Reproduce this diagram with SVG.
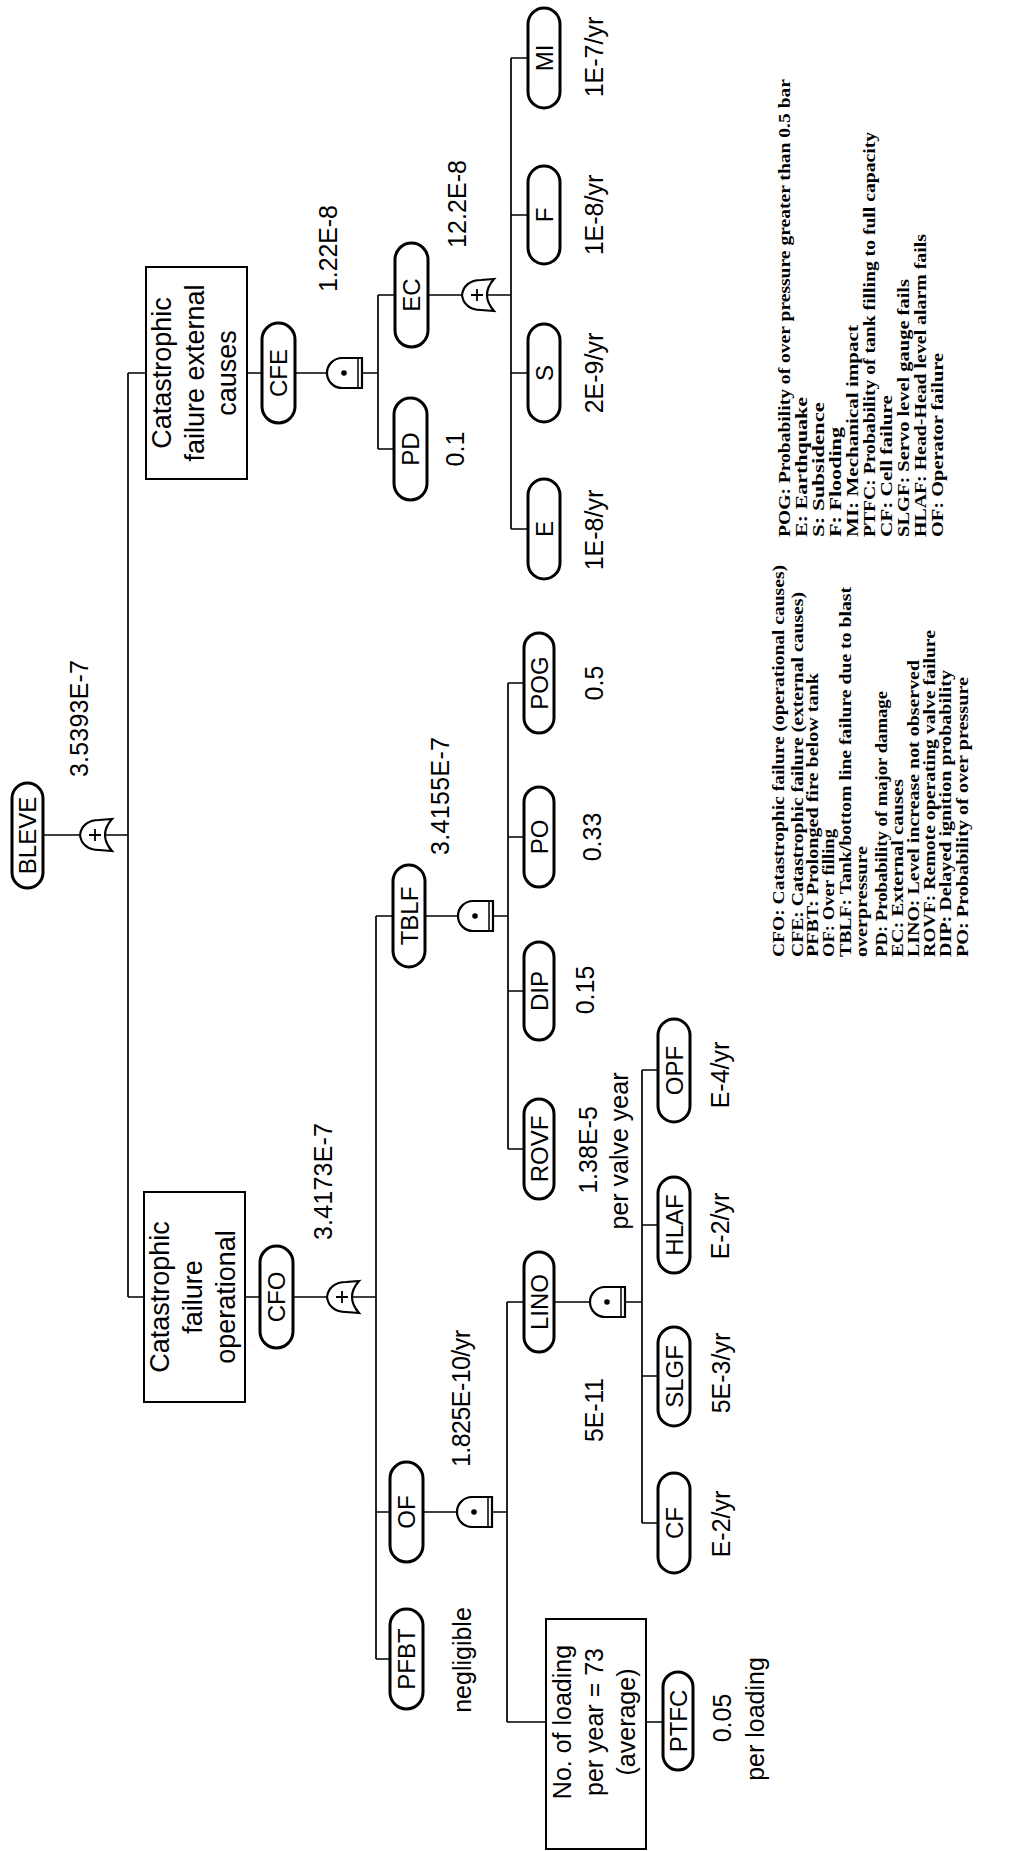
<svg xmlns="http://www.w3.org/2000/svg" xmlns:xlink="http://www.w3.org/1999/xlink" width="1019" height="1851" viewBox="0 0 1019 1851">
<style>
.ln{stroke:#000;stroke-width:1.7;fill:none}
.pill{fill:#fff;stroke:#000;stroke-width:3}
.box{fill:#fff;stroke:#000;stroke-width:2}
.gate{fill:#fff;stroke:#000;stroke-width:2.2}
.pt{font-family:"Liberation Sans",Arial,sans-serif;font-size:24px;text-anchor:middle;fill:#000}
.bt{font-family:"Liberation Sans",Arial,sans-serif;font-size:27px;text-anchor:middle;fill:#000}
.lb{font-family:"Liberation Sans",Arial,sans-serif;font-size:25px;fill:#000}
.c{text-anchor:middle}
.lg{font-family:"Liberation Serif","Times New Roman",serif;font-weight:bold;font-size:17px;fill:#000}
</style>
<defs>
<g id="orgate">
<path class="gate" d="M0,0 C9,1 15,8 15,19 L16,32 Q8,25 0,25 Q-8,25 -16,32 L-15,19 C-15,8 -9,1 0,0 Z"/>
<path d="M-6,15 H6 M0,9 V21" stroke="#000" stroke-width="1.8"/>
</g>
<g id="andgate">
<path class="gate" d="M-15,35 V15 A15,15 0 0 1 15,15 V35 Z"/>
<path d="M-15,31 H15" stroke="#000" stroke-width="1.5"/>
<circle cx="0" cy="17" r="2.8" fill="#000"/>
</g>
</defs>
<rect width="1019" height="1851" fill="#fff"/>
<g transform="matrix(0,-1,1,0,0,1851)">
<g id="connectors">
<path class="ln" d="M1016,43 V128 M554,128 H1478 M554,128 V144 M1478,128 V146
M554,245 V376 M192,376 H935 M935,376 V508 M702,508 H1168 M1168,508 V524 M1014,508 V524 M860,508 V524 M702,508 V524
M339,376 V507 M192,376 V390 M129,507 H549 M549,507 V642 M129,507 V546 M129,646 V663
M328,642 H781 M781,642 V658 M626,642 V658 M475,642 V658 M328,642 V658
M1478,247 V378 M1402,378 H1556 M1402,378 V394 M1556,378 V511 M1322,511 H1793 M1793,511 V528 M1636,511 V528 M1478,511 V528 M1322,511 V528"/>
</g>
<g id="BLEVE"><rect class="pill" x="963" y="12" width="105" height="31" rx="15.5"/><text class="pt" x="1015.5" y="36">BLEVE</text>
<use xlink:href="#orgate" x="1016" y="80"/><text class="lb" x="1074" y="88" textLength="117">3.5393E-7</text></g>
<g id="CFO"><rect class="box" x="449" y="144" width="210" height="101"/>
<text class="bt" x="554" y="169">Catastrophic</text><text class="bt" x="554" y="202">failure</text><text class="bt" x="554" y="235">operational</text>
<rect class="pill" x="503" y="260" width="102" height="33" rx="16.5"/><text class="pt" x="554" y="285">CFO</text>
<use xlink:href="#orgate" x="554" y="327"/><text class="lb" x="611" y="332" textLength="117">3.4173E-7</text></g>
<g id="CFE"><rect class="box" x="1372" y="146" width="212" height="101"/>
<text class="bt" x="1478" y="171">Catastrophic</text><text class="bt" x="1478" y="204">failure external</text><text class="bt" x="1478" y="236">causes</text>
<rect class="pill" x="1428" y="262" width="100" height="33" rx="16.5"/><text class="pt" x="1478" y="287">CFE</text>
<use xlink:href="#andgate" x="1478" y="327"/><text class="lb" x="1559" y="337" textLength="87">1.22E-8</text></g>
<g id="EC"><rect class="pill" x="1504" y="395" width="104" height="33" rx="16.5"/><text class="pt" x="1556" y="420">EC</text>
<use xlink:href="#orgate" x="1556" y="462"/><text class="lb" x="1603" y="466" textLength="88">12.2E-8</text></g>
<g id="PD"><rect class="pill" x="1351" y="394" width="102" height="33" rx="16.5"/><text class="pt" x="1402" y="419">PD</text>
<text class="lb c" x="1402" y="464">0.1</text></g>
<g id="MI"><rect class="pill" x="1743" y="528" width="100" height="32" rx="16"/><text class="pt" x="1793" y="552.5">MI</text><text class="lb c" x="1794" y="603">1E-7/yr</text></g>
<g id="F"><rect class="pill" x="1587" y="528" width="98" height="32" rx="16"/><text class="pt" x="1636" y="552.5">F</text><text class="lb c" x="1636" y="603">1E-8/yr</text></g>
<g id="S"><rect class="pill" x="1429" y="528" width="98" height="32" rx="16"/><text class="pt" x="1478" y="552.5">S</text><text class="lb c" x="1478" y="603">2E-9/yr</text></g>
<g id="E"><rect class="pill" x="1272" y="528" width="100" height="32" rx="16"/><text class="pt" x="1322" y="552.5">E</text><text class="lb c" x="1321" y="603">1E-8/yr</text></g>
<g id="TBLF"><rect class="pill" x="884" y="393" width="102" height="32" rx="16"/><text class="pt" x="935" y="417.5">TBLF</text>
<use xlink:href="#andgate" x="935" y="458"/><text class="lb" x="996" y="449" textLength="118">3.4155E-7</text></g>
<g id="POG"><rect class="pill" x="1118" y="524" width="100" height="30" rx="15"/><text class="pt" x="1168" y="547.5">POG</text><text class="lb c" x="1168" y="603">0.5</text></g>
<g id="PO"><rect class="pill" x="964" y="524" width="100" height="30" rx="15"/><text class="pt" x="1014" y="547.5">PO</text><text class="lb c" x="1014" y="601">0.33</text></g>
<g id="DIP"><rect class="pill" x="811" y="524" width="98" height="30" rx="15"/><text class="pt" x="860" y="547.5">DIP</text><text class="lb c" x="861" y="594">0.15</text></g>
<g id="ROVF"><rect class="pill" x="652" y="524" width="100" height="30" rx="15"/><text class="pt" x="702" y="547.5">ROVF</text><text class="lb c" x="701" y="597">1.38E-5</text><text class="lb c" x="700" y="628">per valve year</text></g>
<g id="OF"><rect class="pill" x="289" y="390" width="100" height="33" rx="16.5"/><text class="pt" x="339" y="415">OF</text>
<use xlink:href="#andgate" x="339" y="457"/><text class="lb" x="384" y="470" textLength="137">1.825E-10/yr</text></g>
<g id="PFBT"><rect class="pill" x="142" y="390" width="100" height="33" rx="16.5"/><text class="pt" x="192" y="415">PFBT</text><text class="lb c" x="191" y="471">negligible</text></g>
<g id="LINO"><rect class="pill" x="499" y="524" width="100" height="30" rx="15"/><text class="pt" x="549" y="547.5">LINO</text>
<use xlink:href="#andgate" x="549" y="590"/><text class="lb" x="409" y="603" textLength="64">5E-11</text></g>
<g id="OPF"><rect class="pill" x="729" y="658" width="103" height="32" rx="16"/><text class="pt" x="780.5" y="682.5">OPF</text><text class="lb c" x="776" y="729">E-4/yr</text></g>
<g id="HLAF"><rect class="pill" x="578" y="658" width="96" height="32" rx="16"/><text class="pt" x="626" y="682.5">HLAF</text><text class="lb c" x="625" y="729">E-2/yr</text></g>
<g id="SLGF"><rect class="pill" x="425" y="658" width="99" height="32" rx="16"/><text class="pt" x="474.5" y="682.5">SLGF</text><text class="lb c" x="478" y="730">5E-3/yr</text></g>
<g id="CF"><rect class="pill" x="278" y="658" width="100" height="32" rx="16"/><text class="pt" x="328" y="682.5">CF</text><text class="lb c" x="327" y="730">E-2/yr</text></g>
<g id="LOADING"><rect class="box" x="2" y="546" width="230" height="100"/>
<text class="bt" style="font-size:25px" x="129" y="571">No. of loading</text><text class="bt" style="font-size:25px" x="129" y="603">per year = 73</text><text class="bt" style="font-size:25px" x="129" y="635">(average)</text></g>
<g id="PTFC"><rect class="pill" x="81" y="663" width="98" height="30" rx="15"/><text class="pt" x="130" y="686.5">PTFC</text>
<text class="lb c" x="133" y="731">0.05</text><text class="lb c" x="132" y="764">per loading</text></g>
<g id="legend-left" class="lg">
<text x="894" y="784" textLength="392" lengthAdjust="spacingAndGlyphs">CFO: Catastrophic failure (operational causes)</text>
<text x="894" y="803" textLength="365" lengthAdjust="spacingAndGlyphs">CFE: Catastrophic failure (external causes)</text>
<text x="894" y="818" textLength="284" lengthAdjust="spacingAndGlyphs">PFBT: Prolonged fire below tank</text>
<text x="894" y="834" textLength="128" lengthAdjust="spacingAndGlyphs">OF: Over filling</text>
<text x="894" y="851" textLength="370" lengthAdjust="spacingAndGlyphs">TBLF: Tank/bottom line failure due to blast</text>
<text x="894" y="867" textLength="111" lengthAdjust="spacingAndGlyphs">overpressure</text>
<text x="894" y="887" textLength="266" lengthAdjust="spacingAndGlyphs">PD: Probability of major damage</text>
<text x="894" y="903" textLength="178" lengthAdjust="spacingAndGlyphs">EC: External causes</text>
<text x="894" y="919" textLength="297" lengthAdjust="spacingAndGlyphs">LINO: Level increase not observed</text>
<text x="894" y="935" textLength="327" lengthAdjust="spacingAndGlyphs">ROVF: Remote operating valve failure</text>
<text x="894" y="951" textLength="287" lengthAdjust="spacingAndGlyphs">DIP: Delayed ignition probability</text>
<text x="894" y="968" textLength="280" lengthAdjust="spacingAndGlyphs">PO: Probability of over pressure</text>
</g>
<g id="legend-right" class="lg">
<text x="1314" y="790" textLength="458" lengthAdjust="spacingAndGlyphs">POG: Probability of over pressure greater than 0.5 bar</text>
<text x="1314" y="807" textLength="140" lengthAdjust="spacingAndGlyphs">E: Earthquake</text>
<text x="1314" y="824" textLength="135" lengthAdjust="spacingAndGlyphs">S: Subsidence</text>
<text x="1314" y="841" textLength="110" lengthAdjust="spacingAndGlyphs">F: Flooding</text>
<text x="1314" y="858" textLength="212" lengthAdjust="spacingAndGlyphs">MI: Mechanical impact</text>
<text x="1314" y="875" textLength="405" lengthAdjust="spacingAndGlyphs">PTFC: Probability of tank filling to full capacity</text>
<text x="1314" y="892" textLength="142" lengthAdjust="spacingAndGlyphs">CF: Cell failure</text>
<text x="1314" y="909" textLength="258" lengthAdjust="spacingAndGlyphs">SLGF: Servo level gauge fails</text>
<text x="1314" y="926" textLength="303" lengthAdjust="spacingAndGlyphs">HLAF: Head-Head level alarm fails</text>
<text x="1314" y="943" textLength="184" lengthAdjust="spacingAndGlyphs">OF: Operator failure</text>
</g>
</g>
</svg>
